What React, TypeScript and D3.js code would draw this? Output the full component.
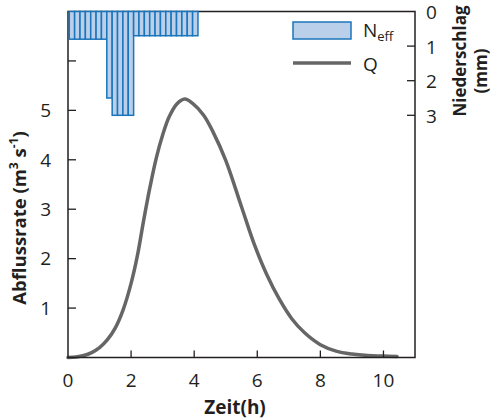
import React from "react";
import * as d3 from "d3";

// Effective rainfall per 10-minute interval (mm), plotted downward from the top
const rainStartH = 0.04;
const rainStepH = 0.17;
const rainDepth = [
  0.8, 0.8, 0.8, 0.8, 0.8, 0.8, 0.8,
  2.5,
  3.0, 3.0, 3.0, 3.0,
  0.7, 0.7, 0.7, 0.7, 0.7, 0.7, 0.7, 0.7, 0.7, 0.7, 0.7, 0.7,
];

// Runoff hydrograph: time (h) and discharge (m³/s)
const qTime = [
  0, 0.25, 0.5, 0.75, 1.0, 1.25, 1.5, 1.75, 2.0, 2.2, 2.4, 2.6, 2.8, 3.0, 3.2,
  3.45, 3.7, 3.95, 4.3, 4.6, 5.0, 5.5, 5.9, 6.3, 6.7, 7.1, 7.5, 8.0, 8.5,
  9.0, 9.5, 10.0, 10.43,
];
const qValue = [
  0, 0.01, 0.04, 0.1, 0.2, 0.36, 0.6, 0.97, 1.5, 2.06, 2.78, 3.45, 4.04, 4.5,
  4.86, 5.13, 5.23, 5.14, 4.9, 4.56, 3.99, 3.05, 2.3, 1.68, 1.18, 0.78,
  0.5, 0.26, 0.13, 0.07, 0.04, 0.03, 0.02,
];

const xTicks = [0, 2, 4, 6, 8, 10];
const yTicks = [1, 2, 3, 4, 5, 6];
const yLabels = [1, 2, 3, 4, 5];
const rTicks = [1, 2, 3];
const rLabels = [0, 1, 2, 3];

const W = 495;
const H = 419;
const L = 68, R = 415, T = 11.5, B = 357.5;

const FONT = "'Open Sans', 'Noto Sans', sans-serif";
const INK = "#231f20";
const BAR_FILL = "#b9cfea";
const BAR_STROKE = "#1b75bb";
const LINE = "#666666";

export default function App() {
  const x = d3.scaleLinear().domain([0, 11]).range([L, R]);
  const y = d3.scaleLinear().domain([0, 7]).range([B, T]);
  const yr = d3.scaleLinear().domain([0, 10]).range([T, B]);

  const pts: [number, number][] = qTime.map((t, i) => [t, qValue[i]]);
  const line = d3
    .line<[number, number]>()
    .x((d) => x(d[0]))
    .y((d) => y(d[1]))
    .curve(d3.curveCatmullRom.alpha(0.5));

  const bars = rainDepth.map((d, i) => {
    const t0 = rainStartH + i * rainStepH;
    const t1 = t0 + rainStepH;
    return { t0, t1, d };
  });

  return (
    <svg
      width={W}
      height={H}
      style={{ position: "absolute", left: 0, top: 0, background: "#fff" }}
      fontFamily={FONT}
    >
      {/* hydrograph */}
      <path d={line(pts) || ""} fill="none" stroke={LINE} strokeWidth={3.5} strokeLinejoin="round" strokeLinecap="round" />

      {/* frame */}
      <rect x={L} y={T} width={R - L} height={B - T} fill="none" stroke={INK} strokeWidth={1.5} />

      {/* rainfall bars hanging from the top */}
      {bars.map((b, i) => (
        <rect
          key={i}
          x={x(b.t0)}
          y={yr(0)}
          width={x(b.t1) - x(b.t0)}
          height={yr(b.d) - yr(0)}
          fill={BAR_FILL}
          stroke={BAR_STROKE}
          strokeWidth={1.5}
        />
      ))}

      {/* bottom axis */}
      {xTicks.map((t) => (
        <g key={t}>
          {t > 0 && <line x1={x(t)} x2={x(t)} y1={B} y2={B - 7} stroke={INK} strokeWidth={1.3} />}
          <text x={x(t)} y={387} textAnchor="middle" fontSize={19} fill={INK}>
            {t}
          </text>
        </g>
      ))}
      <text x={235} y={414} textAnchor="middle" fontSize={19} fontWeight="bold" fill={INK}>
        Zeit(h)
      </text>

      {/* left axis */}
      {yTicks.map((v) => (
        <line key={v} x1={L} x2={L + 8} y1={y(v)} y2={y(v)} stroke={INK} strokeWidth={1.3} />
      ))}
      {yLabels.map((v) => (
        <text key={v} x={51} y={y(v)} dy="0.36em" textAnchor="end" fontSize={19} fill={INK}>
          {v}
        </text>
      ))}
      <text
        transform={`translate(26,218) rotate(-90)`}
        textAnchor="middle"
        fontSize={18.5}
        fontWeight="bold"
        fill={INK}
      >
        Abflussrate (m
        <tspan fontSize={12} dy={-8}>3</tspan>
        <tspan dy={8}> s</tspan>
        <tspan fontSize={12} dy={-8}>-1</tspan>
        <tspan dy={8}>)</tspan>
      </text>

      {/* right axis */}
      {rTicks.map((v) => (
        <line key={v} x1={R} x2={R - 8} y1={yr(v)} y2={yr(v)} stroke={INK} strokeWidth={1.3} />
      ))}
      {rLabels.map((v) => (
        <text key={v} x={426} y={yr(v)} dy="0.4em" textAnchor="start" fontSize={19} fill={INK}>
          {v}
        </text>
      ))}
      <text transform={`translate(466,61) rotate(-90)`} textAnchor="middle" fontSize={17} fontWeight="bold" fill={INK}>
        Niederschlag
      </text>
      <text transform={`translate(487,71) rotate(-90)`} textAnchor="middle" fontSize={17} fontWeight="bold" fill={INK}>
        (mm)
      </text>

      {/* legend */}
      <rect x={293} y={22} width={58} height={17} fill={BAR_FILL} stroke={BAR_STROKE} strokeWidth={1.5} />
      <text x={363} y={37} fontSize={19} fill={INK}>
        N<tspan fontSize={13} dy={4}>eff</tspan>
      </text>
      <line x1={293} x2={351} y1={63} y2={63} stroke={LINE} strokeWidth={3.5} />
      <text x={363} y={71} fontSize={19} fill={INK}>
        Q
      </text>
    </svg>
  );
}
